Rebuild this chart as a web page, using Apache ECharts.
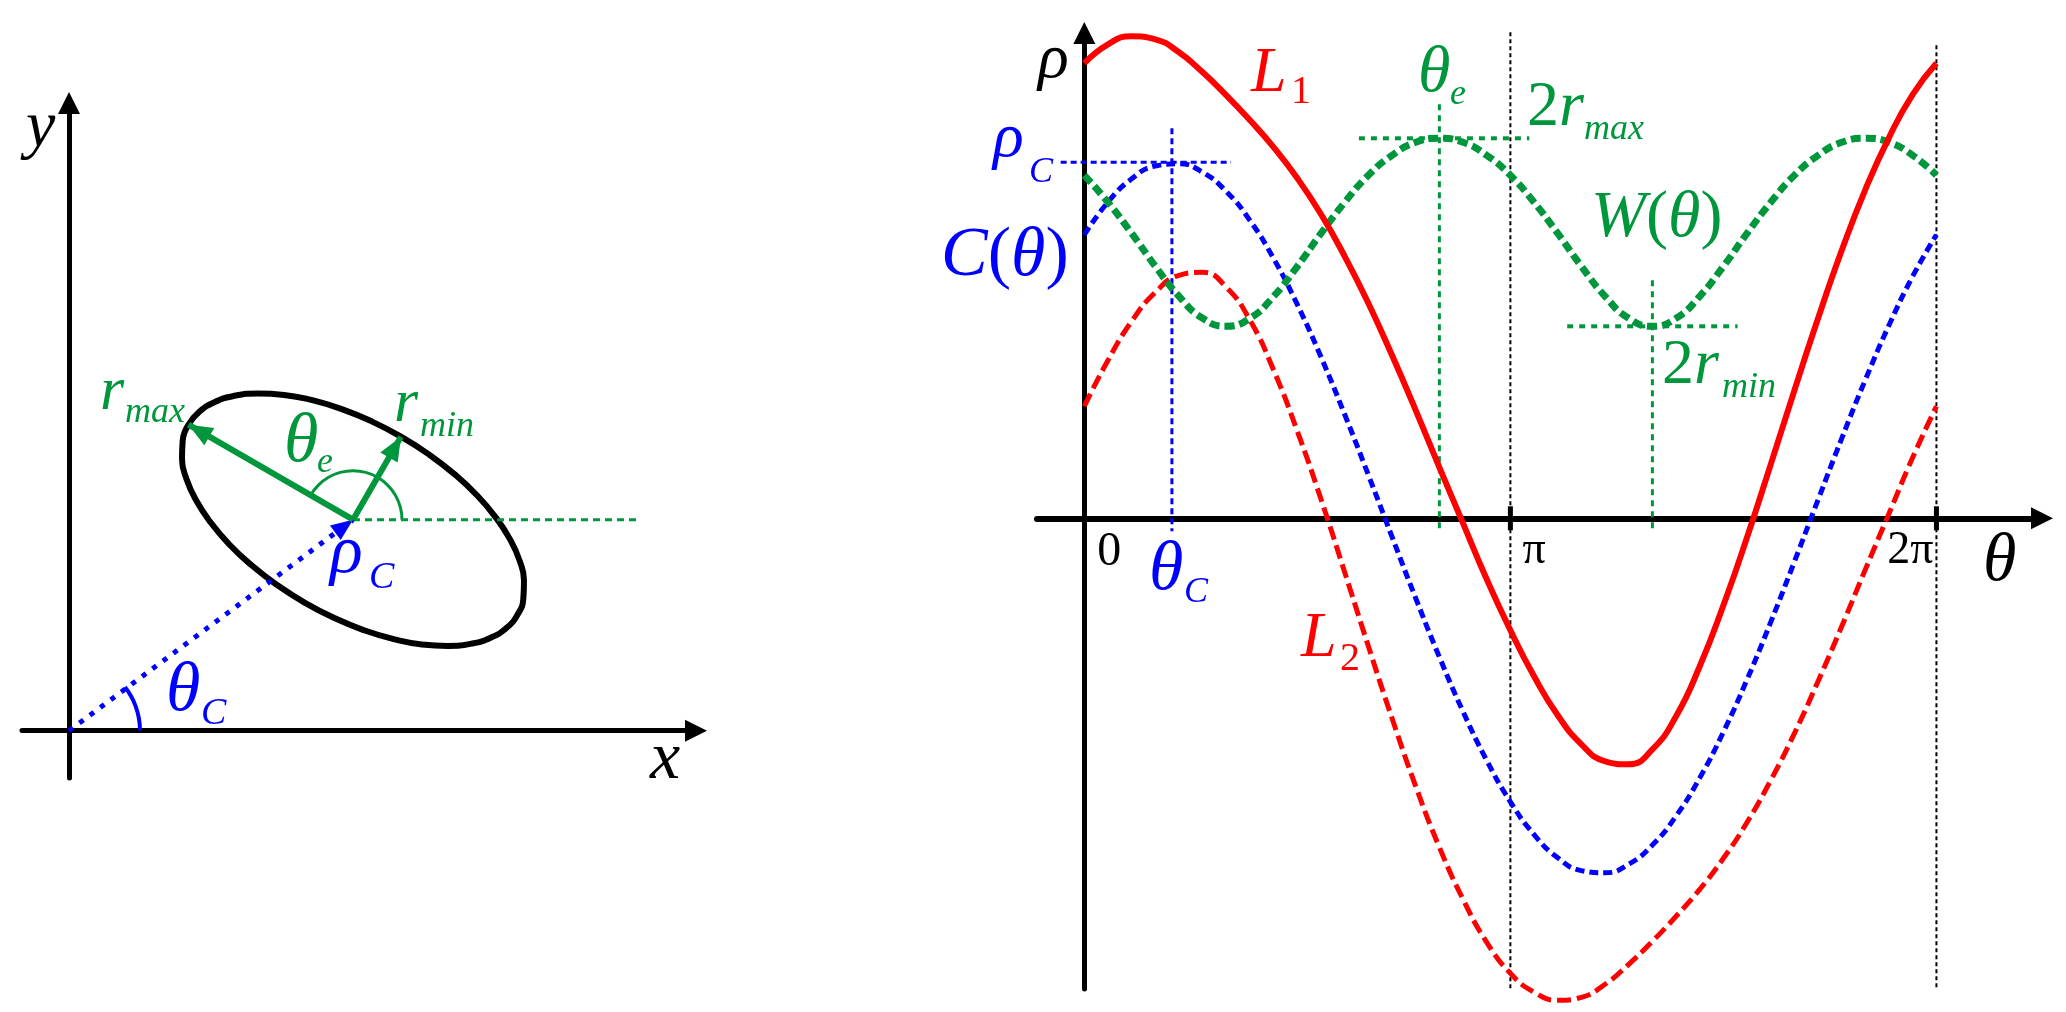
<!DOCTYPE html>
<html><head><meta charset="utf-8">
<script src="https://cdn.jsdelivr.net/npm/echarts@6/dist/echarts.min.js"></script>
<style>html,body{margin:0;padding:0;background:#fff}#c{width:2066px;height:1012px}</style>
</head><body><div id="c"></div>
<script>
// ---------- Right panel data (theta in degrees, rho in px-units) ----------
const thetaDeg = [0,10,20,30,40,50,60,70,80,90,100,110,120,130,140,150,160,170,180,190,200,210,220,230,240,250,260,270,280,290,300,310,320,330,340,350,360];
const L1 = [455,474,482,479,466,446,423,398,371,340,304,262,215,163,108,51,-5,-61,-112,-158,-197,-226,-243,-246,-231,-198,-148,-87,-19,54,128,200,268,329,381,424,455];
const L2 = [112,158,197,226,243,246,231,198,148,87,19,-54,-128,-200,-268,-329,-381,-424,-455,-474,-482,-479,-466,-446,-423,-398,-371,-340,-304,-262,-215,-163,-108,-51,5,61,112];
const Ctheta = [283.5,316.3,339.5,352.3,354.5,345.9,326.8,297.7,259.6,213.6,161.2,103.8,43.3,-18.6,-79.9,-138.7,-193.3,-242.1,-283.5,-316.3,-339.5,-352.3,-354.5,-345.9,-326.8,-297.7,-259.6,-213.6,-161.2,-103.8,-43.3,18.6,79.9,138.7,193.3,242.1,283.5];
const Wtheta = [343,316,285,252,222,200,192,200,222,252,285,316,343,363,376,380,376,363,343,316,285,252,222,200,192,200,222,252,285,316,343,363,376,380,376,363,343];
const rhoC = 356, thetaC = 37, thetaE = 150, twoRmax = 380, twoRmin = 192, thetaWmin = 240;
const thetaTicks = [0, 180, 360];
const thetaTickLabels = ['0', 'π', '2π'];

// ---------- Left panel data (x, y in px-units) ----------
const ellipseX = [119.5,130.3,145.8,165.5,188.9,215.1,243.3,272.8,302.7,332,359.9,385.4,407.9,426.5,440.9,450.5,455.0,454.3,448.5,437.7,422.2,402.5,379.1,352.9,324.7,295.2,265.3,236,208.1,182.6,160.1,141.5,127.1,117.5,113.0,113.7,119.5];
const ellipseY = [306,319.0,328.7,334.9,337.2,335.8,330.5,321.6,309.3,294.1,276.3,256.6,235.5,213.6,191.6,170.3,150.1,131.8,116,103.0,93.3,87.1,84.8,86.2,91.5,100.4,112.7,127.9,145.7,165.4,186.5,208.4,230.4,251.7,271.9,290.2,306];
const centerXY = [284, 211];
const rMaxTip = [119.5, 306];
const rMinTip = [332, 294];
const thetaCArcX = [71, 69.9, 66.7, 61.5, 55.9];
const thetaCArcY = [0, 12.3, 24.3, 35.5, 43.7];
const thetaEArcX = [333, 331.3, 326.4, 318.6, 308.5, 296.7, 284, 271.3, 259.5, 249.4, 241.6];
const thetaEArcY = [211, 223.7, 235.5, 245.6, 253.4, 258.3, 260, 258.3, 253.4, 245.6, 235.5];
const refLineEndX = 570;

// ---------- styling ----------
const RED = '#ff0000', BLUE = '#0000ff', GREEN = '#00963c', BLACK = '#000000';
const FAM = 'Liberation Serif';
const zip = (a, b) => a.map((v, i) => [v, b[i]]);

function axis(gi, min, max, width) {
  return {
    type: 'value', gridIndex: gi, min: min, max: max,
    axisLine: { show: true, onZero: true, symbol: ['none', 'triangle'], symbolSize: [22, 22],
      lineStyle: { color: BLACK, width: width } },
    axisTick: { show: false }, axisLabel: { show: false }, splitLine: { show: false }
  };
}
function lineS(gi, data, color, width, type, extra) {
  return Object.assign({
    type: 'line', xAxisIndex: gi, yAxisIndex: gi, data: data, showSymbol: false, symbol: 'none',
    clip: false, silent: true, lineStyle: { color: color, width: width, type: type || 'solid' }
  }, extra || {});
}
function arrowS(gi, from, to, color, width, type, size) {
  return {
    type: 'line', xAxisIndex: gi, yAxisIndex: gi, data: [], silent: true,
    markLine: {
      silent: true, animation: false, symbol: ['none', 'none'], label: { show: false },
      lineStyle: { color: color, width: width, type: type, opacity: 1 },
      emphasis: { disabled: true },
      data: [[{ coord: from, symbol: 'none' },
              { coord: to, symbol: 'triangle', symbolSize: size, symbolOffset: [0, size[1] / 2] }]]
    }
  };
}
const K = 0.26;
function T(x, base, text, fs, color, italic, align) {
  return { type: 'text', x: x, y: base - K * fs, z: 100, silent: true,
    style: { text: text, fill: color, fontSize: fs, fontFamily: FAM, fontStyle: italic ? 'italic' : 'normal',
      textAlign: align || 'left', textVerticalAlign: 'middle', align: align || 'left', verticalAlign: 'middle' } };
}
function R(x, base, parts, fs, color) {
  const rich = {
    i: { fontStyle: 'italic', fontSize: fs, fontFamily: FAM, fill: color, color: color },
    n: { fontStyle: 'normal', fontSize: fs, fontFamily: FAM, fill: color, color: color }
  };
  const text = parts.map(p => '{' + p[0] + '|' + p[1] + '}').join('');
  return { type: 'text', x: x, y: base - K * fs, z: 100, silent: true,
    style: { text: text, rich: rich, fill: color, fontSize: fs, fontFamily: FAM,
      textAlign: 'left', textVerticalAlign: 'middle', align: 'left', verticalAlign: 'middle' } };
}

const labels = [
  // left panel
  T(26, 146, 'y', 66, BLACK, true),
  T(650, 778, 'x', 68, BLACK, true),
  T(100, 409, 'r', 62, GREEN, true),
  T(125, 422, 'max', 36, GREEN, true),
  T(284, 461, 'θ', 70, GREEN, true),
  T(317, 472, 'e', 36, GREEN, true),
  T(394, 421, 'r', 62, GREEN, true),
  T(420, 436, 'min', 36, GREEN, true),
  T(330, 572, 'ρ', 68, BLUE, true),
  T(369, 588, 'C', 38, BLUE, true),
  T(166, 710, 'θ', 70, BLUE, true),
  T(201, 724, 'C', 38, BLUE, true),
  // right panel
  T(1038, 77, 'ρ', 64, BLACK, true),
  T(1983, 580, 'θ', 68, BLACK, true),
  T(1251, 91, 'L', 64, RED, true),
  T(1291, 103, '1', 40, RED, false),
  T(1418, 91, 'θ', 66, GREEN, true),
  T(1450, 104, 'e', 36, GREEN, true),
  R(1527, 125, [['n', '2'], ['i', 'r']], 64, GREEN),
  T(1584, 139, 'max', 36, GREEN, true),
  R(1591, 236, [['i', 'W'], ['n', '('], ['i', 'θ'], ['n', ')']], 66, GREEN),
  T(993, 156, 'ρ', 64, BLUE, true),
  T(1029, 182, 'C', 36, BLUE, true),
  R(941, 275, [['i', 'C'], ['n', '('], ['i', 'θ'], ['n', ')']], 70, BLUE),
  T(1149, 589, 'θ', 70, BLUE, true),
  T(1184, 602, 'C', 36, BLUE, true),
  T(1301, 656, 'L', 64, RED, true),
  T(1340, 670, '2', 40, RED, false),
  R(1662, 383, [['n', '2'], ['i', 'r']], 64, GREEN),
  T(1722, 397, 'min', 36, GREEN, true)
];

const option = {
  animation: false,
  backgroundColor: '#ffffff',
  grid: [
    { left: 22, top: 103, width: 674, height: 675, containLabel: false, outerBoundsMode: 'none' },
    { left: 1037, top: 33, width: 1005, height: 956, containLabel: false, outerBoundsMode: 'none' }
  ],
  xAxis: [axis(0, -47, 627, 5), axis(1, -20, 404.6, 6)],
  yAxis: [axis(0, -47.3, 627.7, 5), axis(1, -470.7, 485.3, 5)],
  series: [
    // ----- left panel -----
    lineS(0, zip(ellipseX, ellipseY), BLACK, 6, 'solid', { smooth: true }),
    lineS(0, [centerXY, [refLineEndX, centerXY[1]]], GREEN, 3, [7, 5]),
    lineS(0, zip(thetaEArcX, thetaEArcY), GREEN, 3, 'solid', { smooth: true }),
    lineS(0, zip(thetaCArcX, thetaCArcY), BLUE, 4, 'solid', { smooth: true }),
    arrowS(0, [0, 0], centerXY, BLUE, 5, [5, 8], [18, 22]),
    arrowS(0, centerXY, rMaxTip, GREEN, 6, 'solid', [20, 24]),
    arrowS(0, centerXY, rMinTip, GREEN, 6, 'solid', [20, 24]),
    // ----- right panel guides -----
    lineS(1, [[180, 486], [180, -470.7]], BLACK, 2, [4, 3]),
    lineS(1, [[360, 473], [360, -470.7]], BLACK, 2, [4, 3]),
    lineS(1, [[180, -12], [180, 12]], BLACK, 5),
    lineS(1, [[360, -12], [360, 12]], BLACK, 5),
    lineS(1, [[-10, rhoC], [62, rhoC]], BLUE, 3, [6, 4]),
    lineS(1, [[thetaC, 390], [thetaC, -13]], BLUE, 3, [6, 4]),
    lineS(1, [[116, twoRmax], [188, twoRmax]], GREEN, 4, [6, 6]),
    lineS(1, [[thetaE, 414], [thetaE, -13]], GREEN, 3, [6, 5]),
    lineS(1, [[204, twoRmin], [276, twoRmin]], GREEN, 4, [6, 6]),
    lineS(1, [[thetaWmin, 238], [thetaWmin, -13]], GREEN, 3, [6, 5]),
    // ----- right panel curves -----
    lineS(1, zip(thetaDeg, Ctheta), BLUE, 5, [9, 5], { smooth: true }),
    lineS(1, zip(thetaDeg, L2), RED, 5, [14, 6], { smooth: true }),
    lineS(1, zip(thetaDeg, Wtheta), GREEN, 7, [10, 5], { smooth: true }),
    lineS(1, zip(thetaDeg, L1), RED, 6, 'solid', { smooth: true })
  ],
  graphic: labels
};
const chart = echarts.init(document.getElementById('c'), null, { renderer: 'canvas', width: 2066, height: 1012 });
chart.setOption(option);

// tick labels of the theta axis, placed from the axis scale
const tickLayout = [
  { dx: 13, dy: 47, align: 'left', fs: 48 },
  { dx: 12, dy: 45, align: 'left', fs: 46 },
  { dx: -3, dy: 45, align: 'right', fs: 46 }
];
const tickTexts = thetaTicks.map(function (v, i) {
  const p = chart.convertToPixel({ xAxisIndex: 1, yAxisIndex: 1 }, [v, 0]);
  const L = tickLayout[i];
  return T(p[0] + L.dx, p[1] + L.dy, thetaTickLabels[i], L.fs, BLACK, false, L.align);
});
chart.setOption({ graphic: labels.concat(tickTexts) });
</script>
</body></html>
